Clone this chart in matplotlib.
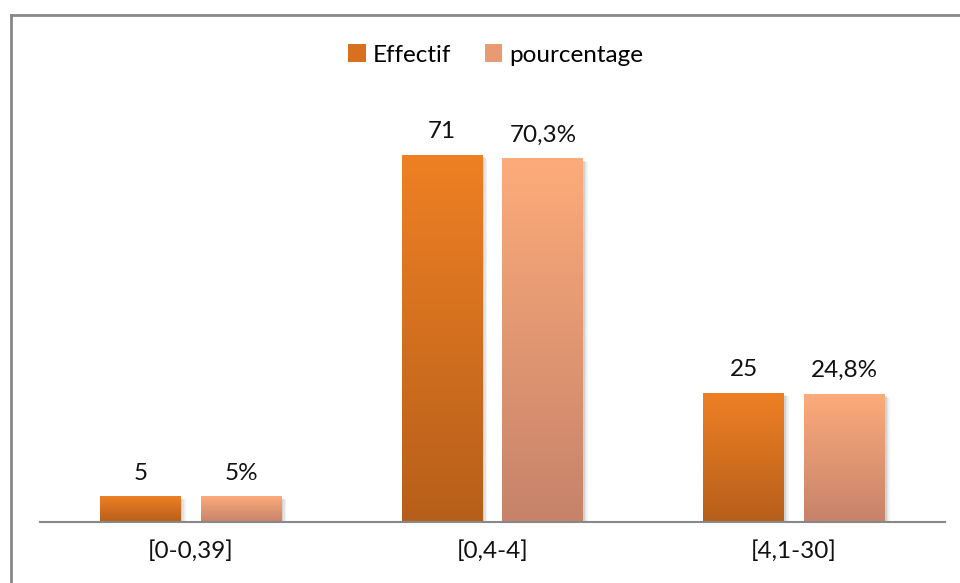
import matplotlib.pyplot as plt
import numpy as np
from matplotlib.colors import LinearSegmentedColormap
from matplotlib.patches import Rectangle
from matplotlib.lines import Line2D

categories = ["[0-0,39]", "[0,4-4]", "[4,1-30]"]
effectif = [5, 71, 25]
pourcentage = [5, 70.3, 24.8]
labels_eff = ["5", "71", "25"]
labels_pct = ["5%", "70,3%", "24,8%"]

plt.rcParams['font.family'] = ['Lato', 'DejaVu Sans']

# gradients (top -> bottom)
cmap_eff = LinearSegmentedColormap.from_list("eff", ["#b65f1a", "#ef8024"])
cmap_pct = LinearSegmentedColormap.from_list("pct", ["#c6836a", "#fdab7a"])

fig = plt.figure(figsize=(9.6, 5.83), dpi=100)
ax = fig.add_axes([40/960, 61/583, 905/960, 414/583])

x = np.arange(len(categories))
w = 0.268
off = 0.167
fs = 17.5
grad = np.linspace(0, 1, 256).reshape(-1, 1)


def gradient_bar(xc, h, cmap):
    # soft shadow
    for k, a in [(0.012, 0.05), (0.008, 0.06), (0.004, 0.07)]:
        ax.add_patch(Rectangle((xc - w/2 + k*0.3, -0.8 - k*20), w + k, h + 0.4,
                               facecolor="black", alpha=a, edgecolor="none", zorder=1))
    bar = ax.bar(xc, h, w, color="none", zorder=2)[0]
    im = ax.imshow(grad, cmap=cmap, aspect="auto", origin="lower",
                   extent=[xc - w/2, xc + w/2, 0, h], zorder=2)
    im.set_clip_path(bar)


for i in range(len(categories)):
    gradient_bar(x[i] - off, effectif[i], cmap_eff)
    gradient_bar(x[i] + off, pourcentage[i], cmap_pct)
    ax.text(x[i] - off, effectif[i] + 3.2, labels_eff[i], ha="center", va="baseline",
            fontsize=fs, color="#111111")
    ax.text(x[i] + off, pourcentage[i] + 3.2, labels_pct[i], ha="center", va="baseline",
            fontsize=fs, color="#111111")

ax.set_xlim(-0.5, 2.5)
ax.set_ylim(0, 80)
ax.set_xticks(x)
ax.set_xticklabels(categories, fontsize=fs, color="#111111")
ax.tick_params(axis="x", length=0, pad=13)
ax.set_yticks([])
for s in ["top", "right", "left"]:
    ax.spines[s].set_visible(False)
ax.spines["bottom"].set_color("#888888")
ax.spines["bottom"].set_linewidth(1.5)
ax.spines["bottom"].set_zorder(3)

handles = [Rectangle((0, 0), 1, 1, facecolor="#d8701f"),
           Rectangle((0, 0), 1, 1, facecolor="#e89a72")]
fig.legend(handles, ["Effectif", "pourcentage"], loc="center",
           bbox_to_anchor=(0.5 + 16/960, 1 - 55/583),
           ncol=2, frameon=False, fontsize=fs, handlelength=0.7, handleheight=0.7,
           handletextpad=0.3, columnspacing=1.4)

# frame lines (top and left only)
fig.add_artist(Line2D([10.5/960, 1], [1 - 14.5/583, 1 - 14.5/583], color="#888888", lw=2,
                      transform=fig.transFigure))
fig.add_artist(Line2D([10.5/960, 10.5/960], [0, 1 - 14.5/583], color="#888888", lw=2,
                      transform=fig.transFigure))

fig.savefig("out.png", dpi=100)
